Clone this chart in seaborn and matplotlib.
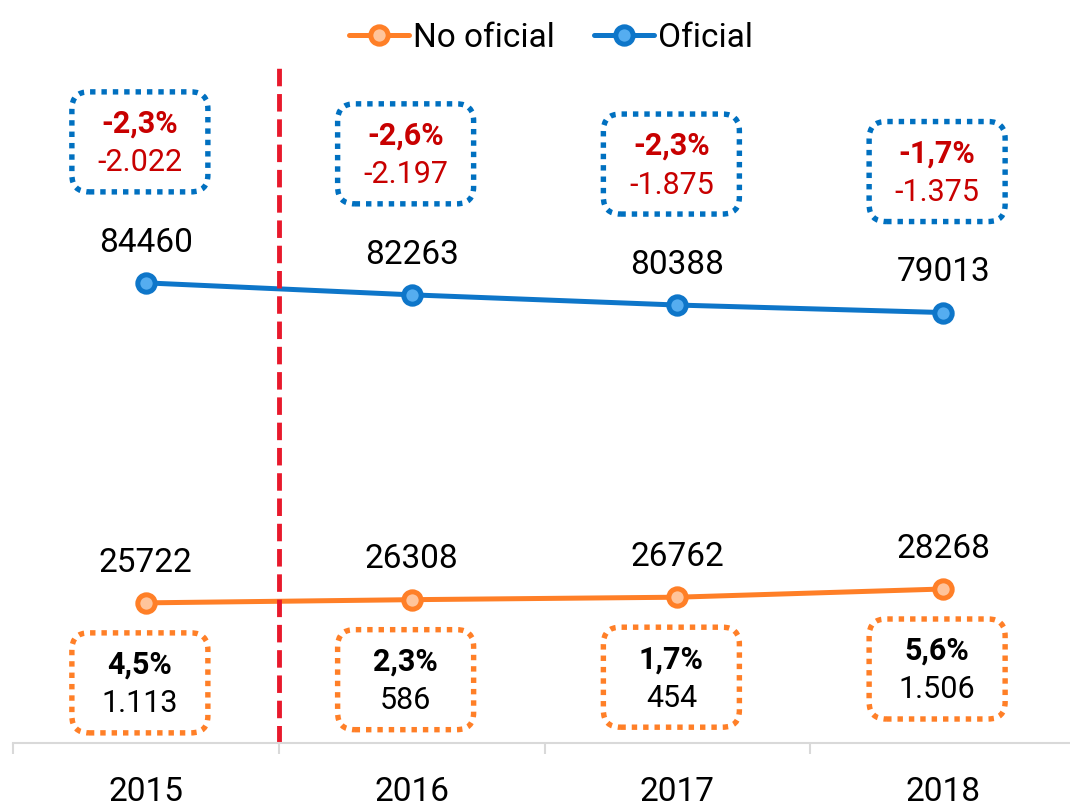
import numpy as np
import pandas as pd
import seaborn as sns
import matplotlib.pyplot as plt
from matplotlib.patches import FancyBboxPatch
from matplotlib.transforms import ScaledTranslation

# Data
years = ["2015", "2016", "2017", "2018"]
oficial = [84460, 82263, 80388, 79013]
no_oficial = [25722, 26308, 26762, 28268]
oficial_pct = ["-2,3%", "-2,6%", "-2,3%", "-1,7%"]
oficial_diff = ["-2.022", "-2.197", "-1.875", "-1.375"]
no_oficial_pct = ["4,5%", "2,3%", "1,7%", "5,6%"]
no_oficial_diff = ["1.113", "586", "454", "1.506"]

# Colours
ORANGE = "#FF7F27"
ORANGE_FACE = "#FFC49B"
BLUE = "#0E76C9"
BLUE_FACE = "#55ADF0"
RED_TEXT = "#C80000"
RED_LINE = "#E8192C"
BOX_BLUE = "#0070C0"
AXIS_GREY = "#D9D9D9"

x_pos = list(range(len(years)))
df = pd.DataFrame({
    "x": x_pos * 2,
    "valor": no_oficial + oficial,
    "serie": ["No oficial"] * len(years) + ["Oficial"] * len(years),
})

sns.set_theme(style="white")
plt.rcParams["font.family"] = ["Roboto", "DejaVu Sans"]
plt.rcParams["text.color"] = "black"

fig = plt.figure(figsize=(10.7, 8.08), dpi=100)
ax = fig.add_axes([13 / 1070, 65 / 808, 1063 / 1070, 675 / 808])

for serie, color, face in [("No oficial", ORANGE, ORANGE_FACE), ("Oficial", BLUE, BLUE_FACE)]:
    sns.lineplot(
        data=df[df["serie"] == serie], x="x", y="valor",
        color=color, linewidth=3.6, marker="o", markersize=12.5,
        markerfacecolor=face, markeredgecolor=color, markeredgewidth=3.6,
        label=serie, ax=ax,
    )

ax.set_xlim(-0.5, 3.5)
ax.set_ylim(0, 123900)

# axis styling
for s in ["left", "top", "right"]:
    ax.spines[s].set_visible(False)
ax.spines["bottom"].set_color(AXIS_GREY)
ax.spines["bottom"].set_linewidth(1.5)
ax.set_yticks([])
ax.set_xticks(x_pos)
ax.set_xticklabels(years, fontsize=24, color="black")
ax.set_xticks([p - 0.5 for p in x_pos], minor=True)
ax.tick_params(axis="x", which="major", length=0, pad=24)
ax.tick_params(axis="x", which="minor", length=8, width=1.5, color=AXIS_GREY, bottom=True)
ax.set_xlabel("")
ax.set_ylabel("")

# dashed red separator
ax.axvline(0.5, color=RED_LINE, linewidth=3.5, linestyle=(0, (3.6, 1.6)))

# value labels
for i in x_pos:
    ax.annotate(str(oficial[i]), (i, oficial[i]), xytext=(0, 29), textcoords="offset points",
                ha="center", va="center", fontsize=24, color="black")
    ax.annotate(str(no_oficial[i]), (i, no_oficial[i]), xytext=(0, 29), textcoords="offset points",
                ha="center", va="center", fontsize=24, color="black")

# dotted boxes with variation
box_w, box_h = 1.36, 1.0
def add_box(i, v, dy_px, pct, diff, edge, txt_color):
    dx_px = -6
    trans = fig.dpi_scale_trans + ScaledTranslation(i, v, ax.transData)
    cx, cy = dx_px / 100, dy_px / 100
    box = FancyBboxPatch((cx - box_w / 2, cy - box_h / 2), box_w, box_h,
                         boxstyle="round,pad=0,rounding_size=0.17",
                         transform=trans, facecolor="none", edgecolor=edge,
                         linewidth=3.9, linestyle=(0, (1, 1.1)), clip_on=False)
    ax.add_patch(box)
    ax.annotate(pct, (i, v), xytext=(dx_px * 0.72, (dy_px + 18) * 0.72), textcoords="offset points",
                ha="center", va="center", fontsize=22, fontweight="bold", color=txt_color)
    ax.annotate(diff, (i, v), xytext=(dx_px * 0.72, (dy_px - 21) * 0.72), textcoords="offset points",
                ha="center", va="center", fontsize=22, color=txt_color)

for i in x_pos:
    add_box(i, oficial[i], 141, oficial_pct[i], oficial_diff[i], BOX_BLUE, RED_TEXT)
    add_box(i, no_oficial[i], -80, no_oficial_pct[i], no_oficial_diff[i], ORANGE, "black")

# legend at top
handles, labels = ax.get_legend_handles_labels()
ax.get_legend().remove()
fig.legend(handles, labels, loc="upper center", bbox_to_anchor=(0.515, 1.01), ncol=2,
           frameon=False, fontsize=24, handlelength=1.8, handletextpad=0.1, columnspacing=1.2,
           labelcolor="black")

plt.savefig("out.png", dpi=100)
